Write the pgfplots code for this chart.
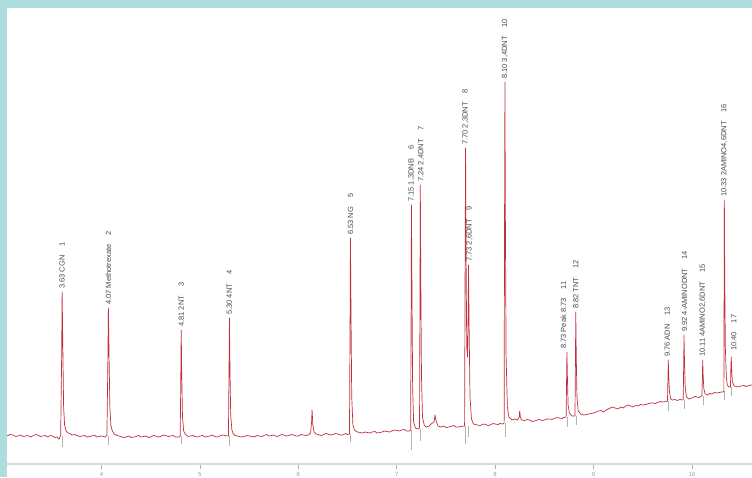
\documentclass[border=0pt]{standalone}
\usepackage{fontspec}
\setmainfont{Liberation Sans}
\usepackage{pgfplots}
\pgfplotsset{compat=1.18}
\definecolor{frame}{RGB}{172,220,220}
\definecolor{trace}{RGB}{192,48,62}
\definecolor{lbl}{RGB}{75,75,75}
\begin{document}
\begin{tikzpicture}[x=1pt,y=1pt]
\fill[frame] (0,0) rectangle (752,477);
\fill[white] (7,0) rectangle (752,469);
\begin{axis}[
  at={(7pt,13pt)}, anchor=south west,
  scale only axis, width=745pt, height=456pt,
  xmin=3.0396, xmax=10.611, ymin=13, ymax=469,
  axis x line*=bottom, axis y line=none,
  x axis line style={draw=gray!30, line width=1.4pt, -},
  xtick={4,5,6,7,8,9,10}, xtick align=outside,
  major tick length=5pt,
  tick style={gray!60, line width=0.6pt},
  xticklabel style={font=\fontsize{6}{6}\selectfont, text=gray!80},
  /pgf/number format/assume math mode=true,
  unbounded coords=jump,
  clip=false,
]
% integration markers (grey)
\addplot[gray!60, line width=0.4pt, forget plot] coordinates {
(3.600,41) (3.600,30) (nan,nan)
(4.070,41) (4.070,32) (nan,nan)
(4.810,41) (4.810,33) (nan,nan)
(5.300,41) (5.300,31) (nan,nan)
(6.530,43) (6.530,35) (nan,nan)
(7.150,47) (7.150,27) (nan,nan)
(7.240,48) (7.240,36) (nan,nan)
(7.700,51) (7.700,33) (nan,nan)
(7.730,51) (7.730,40) (nan,nan)
(8.100,54) (8.100,40) (nan,nan)
(8.730,60) (8.730,50) (nan,nan)
(8.820,61) (8.820,52) (nan,nan)
(9.760,76) (9.760,66) (nan,nan)
(9.920,77) (9.920,68) (nan,nan)
(10.110,81) (10.110,72) (nan,nan)
(10.330,86) (10.330,77) (nan,nan)
(10.400,90) (10.400,81)
};
% chromatogram trace
\addplot[trace, line width=0.7pt, line join=round] coordinates {
(3.04,41) (3.07,42.5) (3.10,42) (3.13,40.5) (3.15,41) (3.18,42) (3.20,40.5) (3.23,41) (3.25,41.5) (3.28,40) (3.30,41) (3.33,42.5) (3.35,42) (3.38,40.5) (3.40,41) (3.43,41.5) (3.45,40) (3.48,41.5) (3.50,41) (3.53,39.5) (3.55,40) (3.57,38)
(3.585,42) (3.595,120) (3.600,185) (3.607,130) (3.615,70) (3.625,52) (3.64,46) (3.66,44) (3.68,43.5) (3.70,42) (3.73,42.5) (3.75,41.5) (3.78,40.5) (3.80,41) (3.83,41.5) (3.85,40) (3.88,40.5) (3.90,41) (3.93,42) (3.95,40) (3.98,40.5) (4.00,41) (4.04,40)
(4.055,42) (4.064,110) (4.070,169) (4.077,120) (4.085,70) (4.095,52) (4.11,46) (4.13,43) (4.16,41.5) (4.18,41) (4.22,39.5) (4.25,40) (4.28,41) (4.30,39.5) (4.33,40) (4.35,40.5) (4.38,41.5) (4.40,40) (4.43,40.5) (4.45,41) (4.48,39.5) (4.50,40) (4.53,41.5) (4.55,41) (4.58,40) (4.60,40.5) (4.63,42) (4.65,41.5) (4.68,40.5) (4.70,41) (4.73,41.5) (4.75,40) (4.79,40)
(4.800,41) (4.806,100) (4.810,147) (4.816,100) (4.823,60) (4.835,46) (4.85,43) (4.88,40.5) (4.90,41) (4.93,41.5) (4.95,40.5) (4.98,40) (5.00,41) (5.03,41.5) (5.05,40) (5.08,40.5) (5.10,41) (5.13,42) (5.15,40.5) (5.18,40) (5.20,41) (5.23,42) (5.25,41.5) (5.28,41)
(5.290,41) (5.296,105) (5.300,159) (5.306,105) (5.313,62) (5.325,47) (5.34,43) (5.36,41.5) (5.38,41) (5.42,40) (5.45,40.5) (5.48,41.5) (5.50,41) (5.53,40.5) (5.55,40) (5.58,41.5) (5.60,41) (5.63,40.5) (5.65,41.5) (5.68,42.5) (5.70,41) (5.73,41.5) (5.75,42) (5.78,40.5) (5.80,41) (5.83,42.5) (5.85,42) (5.88,41) (5.90,41.5) (5.93,42.5) (5.95,42) (5.98,41) (6.00,41) (6.03,42.5) (6.05,42) (6.08,41.5) (6.10,42)
(6.125,44) (6.135,55) (6.140,67) (6.148,52) (6.16,45) (6.18,43) (6.20,42.5) (6.23,41.5) (6.25,42) (6.28,43.5) (6.30,43) (6.33,42) (6.35,42.5) (6.38,43.5) (6.40,43) (6.43,42) (6.45,42) (6.48,43.5) (6.50,42.5)
(6.520,43) (6.526,150) (6.530,239) (6.536,160) (6.543,80) (6.555,52) (6.57,47) (6.60,45) (6.63,44.5) (6.65,44) (6.68,45) (6.70,44.5) (6.73,44) (6.75,45) (6.78,45.5) (6.80,44) (6.83,44.5) (6.85,45) (6.88,46) (6.90,45.5) (6.93,45) (6.95,46) (6.98,47) (7.00,46.5) (7.03,46) (7.05,47) (7.08,47.5) (7.10,46) (7.13,46)
(7.142,47) (7.147,180) (7.150,272) (7.155,190) (7.162,90) (7.172,55) (7.19,49) (7.215,48)
(7.232,49) (7.237,190) (7.240,292) (7.245,200) (7.252,100) (7.262,60) (7.28,52) (7.30,50) (7.33,51) (7.35,53) (7.38,55) (7.39,62) (7.40,56) (7.42,51) (7.45,50) (7.48,51) (7.50,49.5) (7.53,50) (7.55,50.5) (7.58,51.5) (7.60,50) (7.63,50) (7.65,50.5)
(7.690,51) (7.695,200) (7.700,329) (7.705,220) (7.712,130) (7.720,120) (7.726,160) (7.730,212) (7.736,150) (7.745,80) (7.76,58) (7.78,53) (7.80,52.5) (7.82,52) (7.85,51.5) (7.88,53) (7.90,52.5) (7.93,51.5) (7.95,52) (7.98,53.5) (8.00,53) (8.03,52.5) (8.05,53.5) (8.08,53)
(8.092,54) (8.096,250) (8.100,395) (8.104,270) (8.112,120) (8.125,70) (8.14,60) (8.17,57) (8.20,58) (8.23,57) (8.245,60) (8.25,66) (8.257,60) (8.27,57) (8.30,56.5) (8.33,57.5) (8.35,57) (8.38,55.5) (8.40,56) (8.43,57) (8.45,57.5) (8.48,56.5) (8.50,57) (8.53,58) (8.55,58) (8.58,57.5) (8.60,58.5) (8.63,59.5) (8.65,59) (8.68,58.5) (8.70,59.5)
(8.722,60) (8.727,100) (8.730,125) (8.735,100) (8.742,72) (8.755,64) (8.78,61) (8.80,61)
(8.812,61) (8.817,120) (8.820,165) (8.825,120) (8.832,80) (8.845,66) (8.87,63) (8.90,62) (8.93,62.5) (8.95,63) (8.98,63.5) (9.00,64) (9.03,65) (9.05,66) (9.08,66.5) (9.10,65) (9.13,67) (9.15,68) (9.18,69.5) (9.20,70) (9.23,68.5) (9.25,68) (9.28,70) (9.30,69) (9.33,71) (9.35,72) (9.38,71) (9.40,70) (9.43,71.5) (9.45,71) (9.48,72.5) (9.50,72) (9.53,72.5) (9.55,73) (9.58,74) (9.60,74) (9.63,73.5) (9.65,74.5) (9.68,75.5) (9.70,75) (9.74,75.5)
(9.752,76) (9.757,100) (9.760,117) (9.765,100) (9.772,85) (9.785,78) (9.80,77) (9.83,77.5) (9.85,76.5) (9.88,77.5) (9.90,77)
(9.912,77.5) (9.917,115) (9.920,142) (9.925,115) (9.932,90) (9.945,80) (9.97,78) (10.00,79) (10.03,80.5) (10.05,80) (10.07,79.5) (10.09,80.5)
(10.102,81) (10.107,100) (10.110,117) (10.115,100) (10.122,88) (10.135,83) (10.16,82) (10.18,83.5) (10.20,83) (10.23,84.5) (10.25,84) (10.28,84.5) (10.30,85) (10.32,85)
(10.325,86) (10.328,200) (10.330,277) (10.334,200) (10.340,130) (10.350,100) (10.36,92) (10.375,90)
(10.392,90) (10.396,108) (10.400,120) (10.405,106) (10.412,95) (10.43,91) (10.45,90.5) (10.47,90) (10.50,91) (10.53,91.5) (10.55,90.5) (10.58,91.5) (10.60,92) (10.611,92)
};
% peak labels
\begin{scope}[every node/.style={rotate=90, anchor=west, inner sep=0pt, text=lbl, font=\fontsize{7.5}{7.5}\selectfont}]
\node at (axis cs:3.600,188) {3.63 CGN\hspace{9pt}1};
\node at (axis cs:4.070,172) {4.07 Methotrexate\hspace{9pt}2};
\node at (axis cs:4.810,150) {4.81 2NT\hspace{9pt}3};
\node at (axis cs:5.300,162) {5.30 4NT\hspace{9pt}4};
\node at (axis cs:6.530,242) {6.53 NG\hspace{9pt}5};
\node at (axis cs:7.150,275) {7.15 1,3DNB\hspace{9pt}6};
\node at (axis cs:7.250,295) {7.24 2,4DNT\hspace{9pt}7};
\node at (axis cs:7.700,332) {7.70 2,3DNT\hspace{9pt}8};
\node at (axis cs:7.740,215) {7.73 2,6DNT\hspace{9pt}9};
\node at (axis cs:8.100,398) {8.10 3,4DNT\hspace{9pt}10};
\node at (axis cs:8.695,128) {8.73 Peak 8.73\hspace{9pt}11};
\node at (axis cs:8.820,168) {8.82 TNT\hspace{9pt}12};
\node at (axis cs:9.750,120) {9.76 ADN\hspace{9pt}13};
\node at (axis cs:9.925,145) {9.92 4-AMINODNT\hspace{9pt}14};
\node at (axis cs:10.110,120) {10.11 4AMINO2,6DNT\hspace{9pt}15};
\node at (axis cs:10.330,280) {10.33 2AMINO4,6DNT\hspace{9pt}16};
\node at (axis cs:10.425,126) {10.40\hspace{9pt}17};
\end{scope}
\end{axis}
\pgfresetboundingbox
\useasboundingbox (0,0) rectangle (752,477);
\end{tikzpicture}
\end{document}
